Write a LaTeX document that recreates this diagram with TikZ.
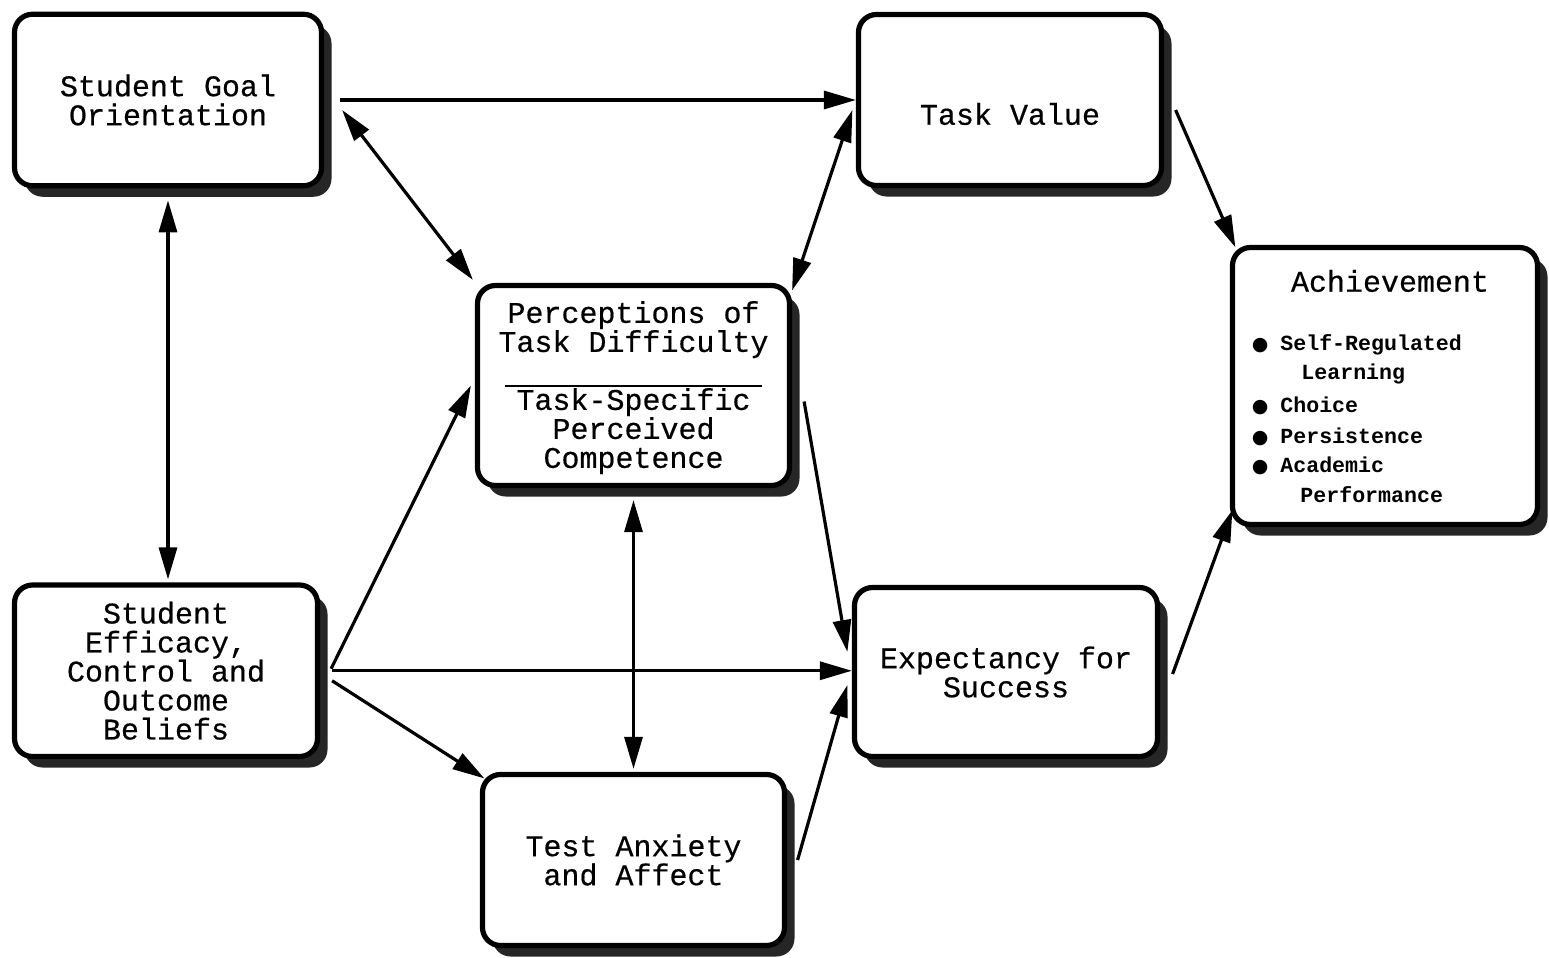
\documentclass[tikz,border=0pt]{standalone}
\usepackage{fontspec}
\setmonofont{Liberation Mono}
\newfontfamily\boxfam[FakeBold=0.5]{Liberation Mono}
\newfontfamily\symfont{DejaVu Sans}
\usetikzlibrary{arrows.meta,shadows,calc}
\newcommand\boxfont{\boxfam\fontsize{15}{14.5}\selectfont}
\newcommand\itemfont{\ttfamily\bfseries\fontsize{10.8}{13}\selectfont}
\newcommand\bul{{\symfont\fontsize{9.5}{9.5}\selectfont ●}}
\begin{document}
\begin{tikzpicture}[x=0.5pt,y=-0.5pt,
  box/.style={draw=black, line width=2.6pt, rounded corners=9pt, fill=white,
    drop shadow={shadow xshift=5pt,shadow yshift=-5.5pt,fill=black!85,opacity=1},
    inner sep=0pt, align=center, font=\boxfont},
  lbl/.style={inner sep=0pt, font=\boxfont},
  item/.style={inner sep=0pt, anchor=base west, font=\itemfont},
  conn/.style={line width=1.6pt, -{Triangle[length=16pt,width=9pt]}},
  both/.style={line width=1.6pt, {Triangle[length=16pt,width=9pt]}-{Triangle[length=16pt,width=9pt]}},
]
\useasboundingbox (0,0) rectangle (1549,958);

% boxes
\node[box, minimum width=153.5pt, minimum height=85.75pt] (goal) at (168,100)
  {Student Goal\\Orientation};
\node[box, minimum width=151.5pt, minimum height=85.5pt] (tv) at (1010,100) {};
\node[lbl] (tvT) at ([yshift=-7pt]tv.center) {Task Value};
\node[box, minimum width=156pt, minimum height=100pt] (per) at (633.5,385.5)
  {\rule{0pt}{13pt}Perceptions of\\Task Difficulty\\\smash{\rule[-3pt]{128.5pt}{1pt}}\\Task-Specific\\Perceived\\Competence};
\node[box, minimum width=152.5pt, minimum height=138.5pt] (ach) at (1385,386) {};
\node[box, minimum width=151.5pt, minimum height=85.75pt] (eff) at (166,670.75)
  {Student\\Efficacy,\\Control and\\Outcome\\Beliefs};
\node[box, minimum width=151.5pt, minimum height=84.5pt] (exp) at (1006,672)
  {Expectancy for\\Success};
\node[box, minimum width=151pt, minimum height=85.5pt] (test) at (633.5,860)
  {Test Anxiety\\and Affect};

% achievement contents
\node[lbl] (achT) at (1390,281) {Achievement};
\node[item] (a1) at (1280,350) {\llap{\bul\hspace{6pt}}Self-Regulated};
\node[item] (a2) at (1301,379) {Learning};
\node[item] (a3) at (1280,412) {\llap{\bul\hspace{6pt}}Choice};
\node[item] (a4) at (1280,443) {\llap{\bul\hspace{6pt}}Persistence};
\node[item] (a5) at (1280,472) {\llap{\bul\hspace{6pt}}Academic};
\node[item] (a6) at (1300,502) {Performance};

% connectors
\draw[conn] ([xshift=8pt]goal.east) -- (goal.east -| tv.west);
\draw[both] ([shift={(9pt,-5pt)}]goal.east) -- ([shift={(-1pt,1.5pt)}]per.north west);
\draw[both] ([yshift=-6pt]goal.south) -- ([yshift=1.5pt]goal.south |- eff.north);
\draw[both] ([shift={(-1.75pt,-5pt)}]tv.west) -- ([yshift=-3.75pt]per.north east);
\draw[conn] ([shift={(5.75pt,-5pt)}]tv.east) -- ([shift={(2.75pt,-1.25pt)}]ach.north west);
\draw[conn] ([shift={(5.5pt,1pt)}]eff.east) -- ([xshift=-2pt]per.west);
\coordinate (g0) at ([xshift=6pt]eff.east);
\draw[conn] (g0) -- (g0 -| exp.west);
\draw[conn] ([shift={(6pt,-5pt)}]eff.east) -- ([shift={(2.25pt,-3.25pt)}]test.north west);
\draw[both] ([yshift=-6pt]per.south) -- ([yshift=1.5pt]test.north);
\draw[conn] ([shift={(6pt,-8pt)}]per.east) -- ([shift={(-2.25pt,10pt)}]exp.west);
\draw[conn] ([xshift=5.25pt]test.east) -- ([shift={(-2.25pt,-6.5pt)}]exp.west);
\draw[conn] ([shift={(6.25pt,-1pt)}]exp.east) -- ([shift={(1.25pt,8.5pt)}]ach.south west);
\end{tikzpicture}
\end{document}
